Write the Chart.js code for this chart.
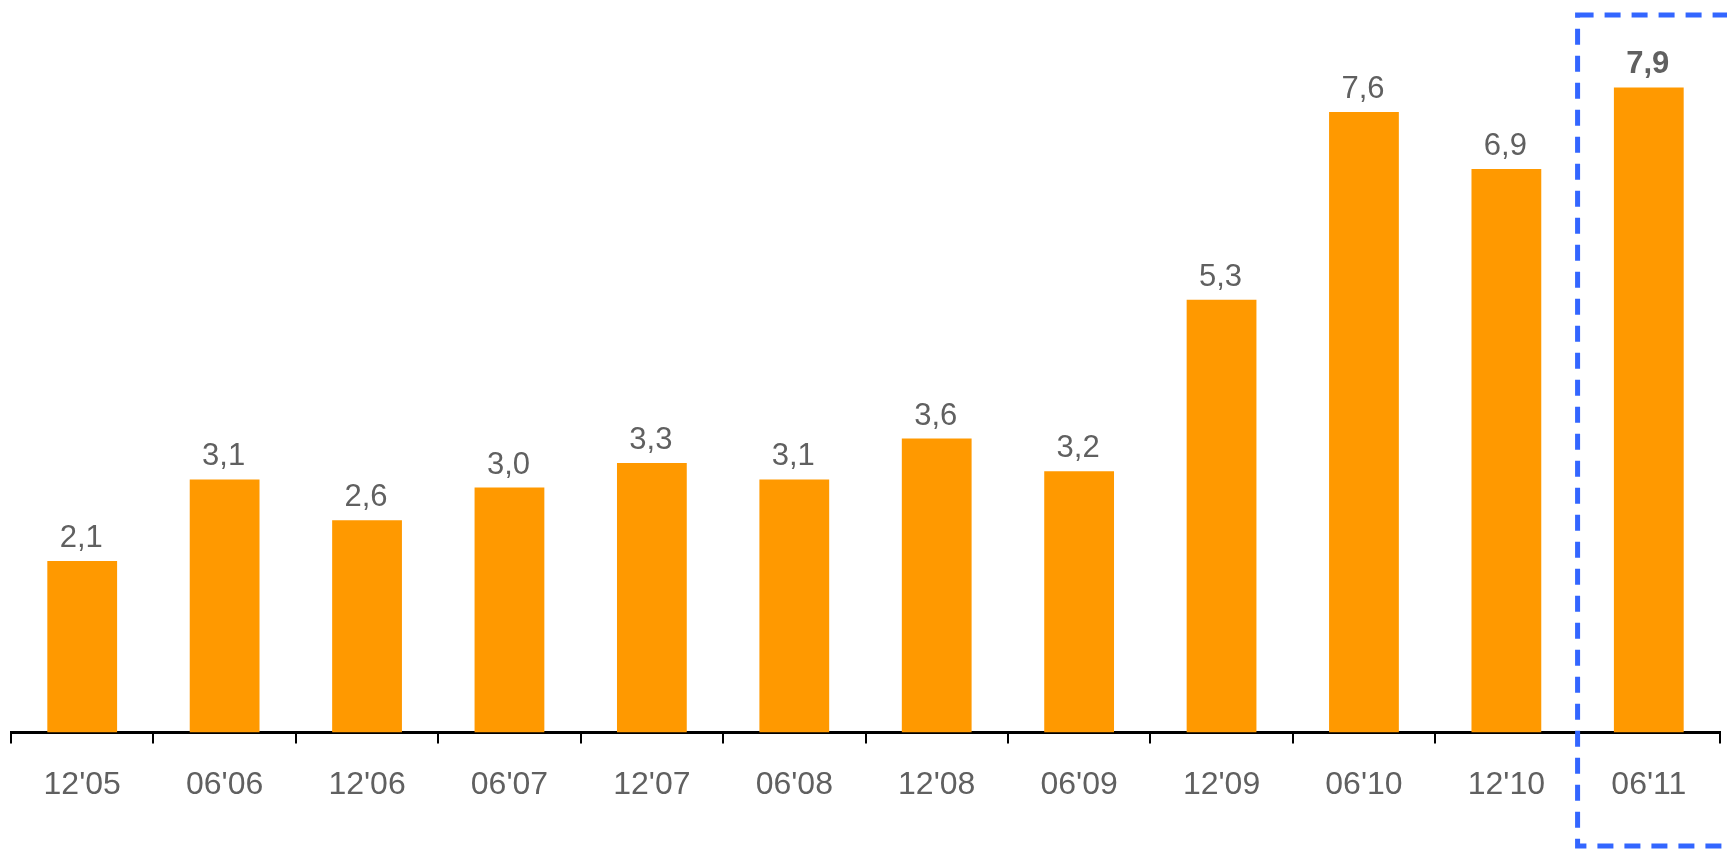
<!DOCTYPE html>
<html>
<head>
    <title>Half-year bar chart</title>
    <script src="https://cdn.jsdelivr.net/npm/chart.js"></script>
    <style>
        html, body { margin: 0; padding: 0; background: #ffffff; }
        #wrap { width: 1727px; height: 849px; position: relative; }
    </style>
</head>
<body>
    <div id="wrap"><canvas id="barChart"></canvas></div>
    <script>
        // Data
        const periods = ["12'05", "06'06", "12'06", "06'07", "12'07", "06'08", "12'08", "06'09", "12'09", "06'10", "12'10", "06'11"];
        const values = [2.1, 3.1, 2.6, 3.0, 3.3, 3.1, 3.6, 3.2, 5.3, 7.6, 6.9, 7.9];
        const highlightIndex = 11;

        const FONT = "'Liberation Sans', Arial, Helvetica, sans-serif";
        const GREY = '#606060';

        // Value labels above bars, last one bold
        const valueLabels = {
            id: 'valueLabels',
            afterDatasetsDraw(chart) {
                const ctx = chart.ctx;
                const meta = chart.getDatasetMeta(0);
                ctx.save();
                ctx.fillStyle = GREY;
                ctx.textAlign = 'center';
                ctx.textBaseline = 'alphabetic';
                meta.data.forEach((bar, i) => {
                    ctx.font = (i === highlightIndex ? 'bold ' : '') + '31px ' + FONT;
                    const txt = values[i].toFixed(1).replace('.', ',');
                    ctx.fillText(txt, bar.x - 1, bar.y - 14);
                });
                ctx.restore();
            }
        };

        // Dashed frame round the latest period
        const highlightBox = {
            id: 'highlightBox',
            afterDraw(chart) {
                const ctx = chart.ctx;
                const x = chart.scales.x;
                const left = x.getPixelForValue(highlightIndex) - (x.getPixelForValue(1) - x.getPixelForValue(0)) / 2;
                ctx.save();
                ctx.strokeStyle = '#3366ff';
                ctx.lineWidth = 5;
                ctx.setLineDash([16, 11]);
                ctx.strokeRect(left, 15, chart.width - left + 20, 831);
                ctx.restore();
            }
        };

        new Chart(document.getElementById('barChart').getContext('2d'), {
            type: 'bar',
            data: {
                labels: periods,
                datasets: [{
                    data: values,
                    backgroundColor: '#ff9900',
                    barPercentage: 0.49,
                    categoryPercentage: 1.0
                }]
            },
            options: {
                responsive: true,
                maintainAspectRatio: false,
                animation: false,
                layout: { padding: { left: 11, right: 7, top: 0, bottom: 23 } },
                plugins: {
                    legend: { display: false },
                    tooltip: { enabled: false }
                },
                scales: {
                    x: {
                        offset: true,
                        border: { display: true, color: '#000000', width: 3 },
                        grid: {
                            offset: true,
                            drawOnChartArea: false,
                            drawTicks: true,
                            tickLength: 11,
                            color: '#000000',
                            lineWidth: 2
                        },
                        ticks: {
                            color: GREY,
                            padding: 22,
                            maxRotation: 0,
                            autoSkip: false,
                            font: { family: FONT, size: 32 }
                        }
                    },
                    y: {
                        display: false,
                        min: 0,
                        max: 8.97
                    }
                }
            },
            plugins: [valueLabels, highlightBox]
        });
    </script>
</body>
</html>
